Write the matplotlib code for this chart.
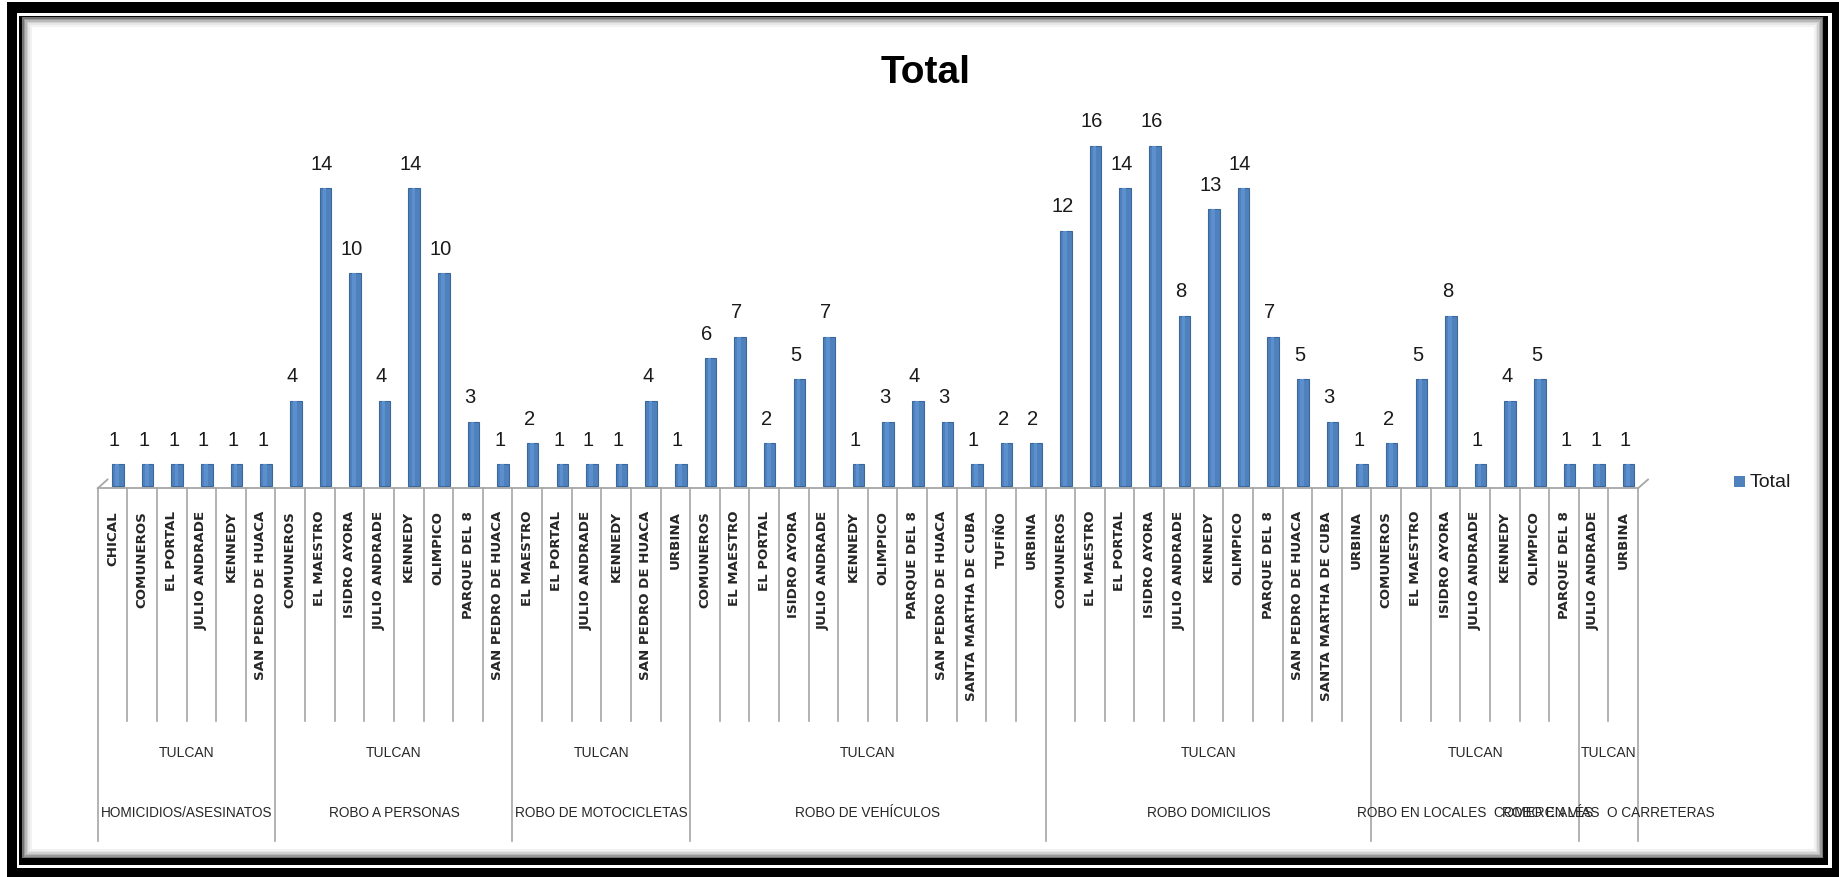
import matplotlib
matplotlib.use("Agg")
import matplotlib.pyplot as plt
from matplotlib.patches import Rectangle
from matplotlib.lines import Line2D

# crime types (top level), city, neighbourhood, count
crime_types = [
    "HOMICIDIOS/ASESINATOS",
    "ROBO A PERSONAS",
    "ROBO DE MOTOCICLETAS",
    "ROBO DE VEHÍCULOS",
    "ROBO DOMICILIOS",
    "ROBO EN LOCALES  COMERCIALES",
    "ROBO EN VÍAS  O CARRETERAS",
]
city = "TULCAN"

barrios = [
    ["CHICAL", "COMUNEROS", "EL PORTAL", "JULIO ANDRADE", "KENNEDY", "SAN PEDRO DE HUACA"],
    ["COMUNEROS", "EL MAESTRO", "ISIDRO AYORA", "JULIO ANDRADE", "KENNEDY", "OLIMPICO",
     "PARQUE DEL 8", "SAN PEDRO DE HUACA"],
    ["EL MAESTRO", "EL PORTAL", "JULIO ANDRADE", "KENNEDY", "SAN PEDRO DE HUACA", "URBINA"],
    ["COMUNEROS", "EL MAESTRO", "EL PORTAL", "ISIDRO AYORA", "JULIO ANDRADE", "KENNEDY",
     "OLIMPICO", "PARQUE DEL 8", "SAN PEDRO DE HUACA", "SANTA MARTHA DE CUBA", "TUFIÑO", "URBINA"],
    ["COMUNEROS", "EL MAESTRO", "EL PORTAL", "ISIDRO AYORA", "JULIO ANDRADE", "KENNEDY",
     "OLIMPICO", "PARQUE DEL 8", "SAN PEDRO DE HUACA", "SANTA MARTHA DE CUBA", "URBINA"],
    ["COMUNEROS", "EL MAESTRO", "ISIDRO AYORA", "JULIO ANDRADE", "KENNEDY", "OLIMPICO",
     "PARQUE DEL 8"],
    ["JULIO ANDRADE", "URBINA"],
]
totals = [
    [1, 1, 1, 1, 1, 1],
    [4, 14, 10, 4, 14, 10, 3, 1],
    [2, 1, 1, 1, 4, 1],
    [6, 7, 2, 5, 7, 1, 3, 4, 3, 1, 2, 2],
    [12, 16, 14, 16, 8, 13, 14, 7, 5, 3, 1],
    [2, 5, 8, 1, 4, 5, 1],
    [1, 1],
]

W, H = 1839, 878
fig = plt.figure(figsize=(W / 100, H / 100), dpi=100)
fig.patch.set_facecolor("white")

regular = ["Liberation Sans", "DejaVu Sans"]


def fx(x):
    return x / W


def fy(y):
    return 1 - y / H


# frame: thick black outer, thin white gap, black inner line, soft grey shadow
def frect(x0, y0, x1, y1, z=-5, **kw):
    fig.patches.append(Rectangle((fx(x0), fy(y1)), fx(x1) - fx(x0), fy(y0) - fy(y1),
                                 transform=fig.transFigure, zorder=z, **kw))


frect(7, 3, 1839, 878, facecolor="black", edgecolor="none")
frect(17, 14, 1832, 869, facecolor="white", edgecolor="none")
frect(19, 17, 1828, 866, facecolor="black", edgecolor="none")
frect(23, 19, 1822, 858, facecolor="white", edgecolor="none")
for k, g in enumerate([0.45, 0.6, 0.72, 0.82, 0.9, 0.95]):
    frect(23 + k * 1.5, 19 + k * 1.5, 1822 - k * 1.5, 858 - k * 1.5,
          facecolor="none", edgecolor=str(g), linewidth=1.5)

# plot area in pixel terms
ax_left, ax_right = 97.7, 1638.0
ax_top, ax_bottom = 60.0, 489.3
base_y = 486.7
px_per_unit = 21.25
ax = fig.add_axes([fx(ax_left), fy(ax_bottom), fx(ax_right) - fx(ax_left),
                   fy(ax_top) - fy(ax_bottom)])
ax.set_zorder(2)
ax.set_facecolor("none")
n = sum(len(b) for b in barrios)
ax.set_xlim(0, n)
ax.set_ylim(-(ax_bottom - base_y) / px_per_unit, (base_y - ax_top) / px_per_unit)
for s in ax.spines.values():
    s.set_visible(False)
ax.set_xticks([])
ax.set_yticks([])


def yax(y_img):
    # image row -> axes fraction
    return (ax_bottom - y_img) / (ax_bottom - ax_top)


xt = ax.get_xaxis_transform()
slot_px = (ax_right - ax_left) / n
bar_shift = 5.5 / slot_px

line_col = "#a6a6a6"
ax.plot([0, n], [0, 0], transform=xt, color=line_col, lw=1.3, clip_on=False)

pos = 0
for gi, (names, vals) in enumerate(zip(barrios, totals)):
    xs = [pos + i + 0.5 for i in range(len(names))]
    bx = [x + bar_shift for x in xs]
    ax.bar(bx, vals, width=0.39, color="#4F81BD", edgecolor="#3b679b", linewidth=0.8, zorder=3)
    # lighter stripe for the rounded column look
    ax.bar([x - 0.03 for x in bx], vals, width=0.12, color="#5b8fcd", linewidth=0, zorder=4)
    for x, v in zip(bx, vals):
        ax.annotate(str(v), (x, v), xytext=(-3.5, 25), textcoords="offset pixels",
                    ha="center", va="center", fontsize=14.5, family=regular, color="#1a1a1a")
    for x, name in zip(xs, names):
        ax.text(x, yax(511), name, transform=xt, rotation=90, ha="center", va="top",
                fontsize=9.6, fontweight="bold", family=["DejaVu Sans"], color="#262626")
    # separators inside the group
    for i in range(1, len(names)):
        ax.plot([pos + i, pos + i], [0, yax(722)], transform=xt, color=line_col, lw=1.2,
                clip_on=False)
    # group boundary
    ax.plot([pos, pos], [0, yax(842)], transform=xt, color=line_col, lw=1.2, clip_on=False)
    mid = pos + len(names) / 2
    ax.text(mid, yax(753), city, transform=xt, ha="center", va="center",
            fontsize=10, family=regular, color="#262626")
    ax.text(mid, yax(813), crime_types[gi], transform=xt, ha="center", va="center",
            fontsize=9.8, family=regular, color="#262626")
    pos += len(names)
ax.plot([n, n], [0, yax(842)], transform=xt, color=line_col, lw=1.2, clip_on=False)

# 3-D floor corners
for x0, x1 in [(97.7, 107.5), (1638, 1648)]:
    fig.lines.append(Line2D([fx(x0), fx(x1)], [fy(489.3), fy(480.5)],
                            transform=fig.transFigure, color=line_col, lw=1.3))

fig.text(fx(926), fy(73), "Total", ha="center", va="center", fontsize=28,
         fontweight="bold", family=regular, color="black")

# legend
frect(1734, 477, 1745, 488, z=3, facecolor="#4F81BD", edgecolor="none")
fig.text(fx(1750), fy(483), "Total", ha="left", va="center", fontsize=14,
         family=regular, color="#1a1a1a")

fig.savefig("out.png", dpi=100)
